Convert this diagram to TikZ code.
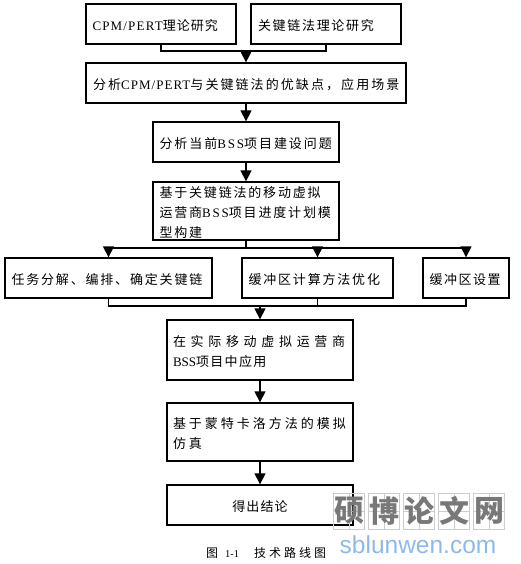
\documentclass[tikz,border=0pt]{standalone}
\usepackage{fontspec}
\usepackage{xcolor}
\setmainfont{Noto Sans CJK SC}
\newfontfamily\latfont{Liberation Serif}
\newfontfamily\markfont{Liberation Sans}
\usetikzlibrary{arrows.meta}
\definecolor{MarkGray}{RGB}{120, 120, 120}
\definecolor{MarkGrid}{RGB}{205, 205, 205}
\definecolor{MarkBlue}{RGB}{140, 185, 235}
\newcommand{\zhsp}[1]{\fontsize{13pt}{20pt}\selectfont\addfontfeature{LetterSpace=#1}}
\newcommand{\lat}[2][0]{{\latfont\addfontfeature{LetterSpace=#1}#2}}
\tikzset{
  flowbox/.style={draw, line width=1.3pt, inner xsep=0pt, inner ysep=0pt, align=left, anchor=center,
    execute at begin node={\rule{0pt}{0pt}\vspace*{0pt}\par\nointerlineskip\vspace*{2pt}}, execute at end node={\par\vspace*{-2pt}}},
  flowline/.style={line width=1.3pt},
  flowarrow/.style={line width=1.3pt, -{Triangle[length=11pt, width=11pt]}}
}
\begin{document}
\begin{tikzpicture}[x=1pt, y=-1pt]
  \useasboundingbox (0,0) rectangle (521,564);

  % upper part
  \node[flowbox, minimum width=150pt, minimum height=40pt, text width=137pt, font=\zhsp{8}] (cpm) at (161,24) {\lat[9]{CPM/PERT}理论研究};
  \node[flowbox, minimum width=150pt, minimum height=40pt, text width=136pt, font=\zhsp{13}] (keychain) at (326,24) {关键链法理论研究};
  \node[flowbox, minimum width=320pt, minimum height=40pt, text width=306pt, font=\zhsp{16}] (compare) at (246,83) {分析\lat[8]{CPM/PERT}与关键链法的优缺点，应用场景};
  \node[flowbox, minimum width=186pt, minimum height=40pt, text width=173pt, font=\zhsp{15}] (problem) at (246,142) {分析当前\lat[14]{BSS}项目建设问题};
  \node[flowbox, minimum width=186pt, minimum height=58pt, text width=173pt, font=\zhsp{14}] (model) at (246,211) {基于关键链法的移动虚拟\\运营商\lat[14]{BSS}项目进度计划模\\型构建};

  % middle row
  \node[flowbox, minimum width=207pt, minimum height=40pt, text width=194pt, font=\zhsp{14}] (task) at (108.5,278) {任务分解、编排、确定关键链};
  \node[flowbox, minimum width=151pt, minimum height=40pt, text width=138pt, font=\zhsp{14}] (buffercalc) at (317.5,278) {缓冲区计算方法优化};
  \node[flowbox, minimum width=86pt, minimum height=40pt, text width=73pt, font=\zhsp{12}] (bufferset) at (466,278) {缓冲区设置};

  % lower part
  \node[flowbox, minimum width=186pt, minimum height=60pt, text width=174pt, font=\zhsp{36}] (apply) at (260,350) {在实际移动虚拟运营商\\\lat{BSS}\addfontfeature{LetterSpace=10}项目中应用};
  \node[flowbox, minimum width=186pt, minimum height=58pt, text width=174pt, font=\zhsp{23}] (simulate) at (260,432) {基于蒙特卡洛方法的模拟\\仿真};
  \node[flowbox, minimum width=186pt, minimum height=40pt, text width=173pt, align=center, font=\zhsp{8}] (result) at (260,505) {得出结论};

  \coordinate (mergetop) at (246,51);
  \coordinate (splitmid) at (246,248);
  \coordinate (mergemid) at (260,306);

  \draw[flowline] (cpm.south) |- (mergetop) -| (keychain.south);
  \draw[flowarrow] (mergetop) -- (compare.north);
  \draw[flowarrow] (compare) -- (problem);
  \draw[flowarrow] (problem) -- (model);
  \draw[flowline] (model.south) -- (splitmid);
  \draw[flowarrow] (splitmid) -| (task.north);
  \draw[flowarrow] (splitmid) -| (buffercalc.north);
  \draw[flowarrow] (splitmid) -| (bufferset.north);
  \draw[flowline] (task.south) |- (mergemid);
  \draw[flowline] (bufferset.south) |- (mergemid);
  \draw[flowline] (buffercalc.south) -- (buffercalc.south |- mergemid);
  \draw[flowarrow] (mergemid) -- (apply.north);
  \draw[flowarrow] (apply) -- (simulate);
  \draw[flowarrow] (simulate) -- (result);

  \node[font=\fontsize{12pt}{14pt}\selectfont\addfontfeature{LetterSpace=25}, inner sep=0pt] (caption) at (266,553) {图\hspace{7pt}{\latfont\fontsize{10.5pt}{14pt}\selectfont 1-1}\hspace{15pt}技术路线图};

  % watermark
  \foreach \wx/\wch/\wname in {349/硕/marka, 384/博/markb, 419/论/markc, 454/文/markd, 489/网/marke} {
    \draw[MarkGrid, line width=0.6pt] (\wx-15.5,493) rectangle (\wx+15.5,529);
    \draw[MarkGrid, line width=0.4pt] (\wx,493) -- (\wx,529) (\wx-15.5,511) -- (\wx+15.5,511);
    \node[text=MarkGray, font=\fontsize{30pt}{32pt}\selectfont\bfseries, inner sep=0pt] (\wname) at (\wx,511) {\wch};
  }
  \node[text=MarkBlue, font=\markfont\fontsize{24.5pt}{26pt}\selectfont, inner sep=0pt] (marksite) at (418,545) {sblunwen.com};
\end{tikzpicture}
\end{document}
